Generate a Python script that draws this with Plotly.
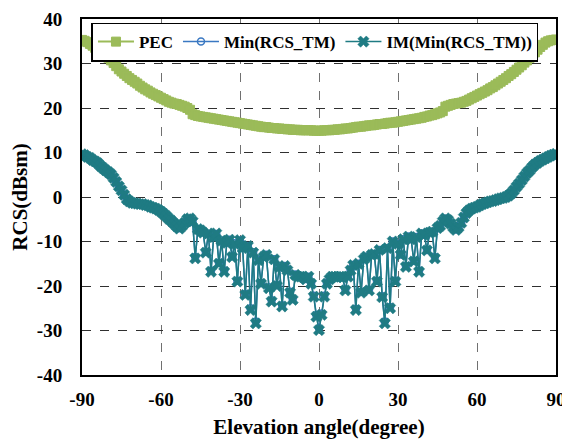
import plotly.graph_objects as go

angles = list(range(-90, 91))

pec = [
    35.3, 35.1, 34.8, 34.4, 34.0, 33.5, 33.1, 32.7, 32.3, 31.8,
    31.3, 30.7, 30.1, 29.4, 28.7, 28.2, 27.7, 27.2, 26.7, 26.3,
    25.9, 25.5, 25.0, 24.6, 24.2, 23.9, 23.5, 23.2, 22.9, 22.6,
    22.3, 22.0, 21.7, 21.4, 21.2, 21.0, 20.9, 20.7, 20.5, 20.3,
    20.0, 19.6, 18.6, 18.4, 18.2, 18.1, 18.0, 17.9, 17.8, 17.7,
    17.6, 17.5, 17.4, 17.3, 17.2, 17.1, 17.0, 16.9, 16.8, 16.7,
    16.6, 16.5, 16.4, 16.3, 16.2, 16.1, 16.0, 15.9, 15.8, 15.7,
    15.7, 15.6, 15.5, 15.5, 15.4, 15.4, 15.3, 15.3, 15.2, 15.2,
    15.1, 15.1, 15.1, 15.0, 15.0, 15.0, 15.0, 15.0, 14.9, 14.9,
    14.9,
    14.9, 15.0, 15.0, 15.0, 15.1, 15.1, 15.2, 15.2, 15.3, 15.4,
    15.4, 15.5, 15.6, 15.7, 15.8, 15.8, 15.9, 16.0, 16.1, 16.1,
    16.2, 16.3, 16.4, 16.4, 16.5, 16.6, 16.7, 16.7, 16.8, 16.9,
    17.0, 17.1, 17.2, 17.3, 17.4, 17.5, 17.6, 17.7, 17.8, 18.0,
    18.1, 18.3, 18.4, 18.6, 18.8, 19.0, 19.3, 20.3, 20.5, 20.7,
    20.9, 21.0, 21.1, 21.2, 21.4, 21.6, 21.9, 22.2, 22.5, 22.8,
    23.1, 23.4, 23.7, 24.0, 24.4, 24.7, 25.1, 25.5, 25.9, 26.3,
    26.7, 27.2, 27.6, 28.1, 28.6, 29.1, 29.6, 30.2, 30.7, 31.3,
    31.9, 32.5, 33.1, 33.7, 34.2, 34.7, 35.0, 35.2, 35.3, 35.4,
]

im_min_rcs_tm = [
    9.6, 9.4, 9.0, 8.8, 8.3, 8.0, 7.6, 7.0, 6.5, 6.0,
    5.6, 5.1, 4.3, 3.4, 2.4, 1.5, 0.5, -0.5, -1.0, -1.3,
    -1.4, -1.5, -1.6, -1.6, -1.8, -1.9, -2.2, -2.4, -2.6, -2.9,
    -3.3, -3.8, -4.3, -4.9, -5.4, -6.0, -6.6, -7.1, -6.5, -5.8,
    -5.0, -4.8, -5.5, -13.8, -7.2, -7.5, -8.0, -12.5, -8.2, -16.8,
    -9.0, -8.2, -15.0, -9.8, -16.8, -10.3, -9.6, -13.5, -10.5, -19.0,
    -9.7, -11.5, -22.0, -11.0, -25.4, -12.5, -28.4, -14.2, -19.5, -13.5,
    -13.0, -20.5, -23.5, -14.0, -20.0, -15.7, -24.6, -15.5, -16.5, -21.5,
    -23.1, -17.5, -17.9, -17.9, -18.0, -18.5, -17.9, -19.5, -22.4, -26.9,
    -29.9,
    -26.5, -22.4, -19.5, -18.5, -17.9, -17.9, -18.0, -17.9, -18.0, -21.0,
    -17.9, -16.5, -15.3, -25.4, -15.0, -21.5, -14.0, -13.4, -21.0, -13.0,
    -12.8, -19.0, -11.9, -22.5, -28.4, -11.5, -25.0, -10.0, -19.0, -10.5,
    -13.0, -9.5, -15.7, -8.9, -9.5, -14.5, -9.0, -16.8, -8.2, -8.5,
    -12.0, -8.0, -7.8, -13.8, -7.0, -6.5, -5.5, -4.8, -5.2, -6.0,
    -6.8, -7.4, -6.8, -5.8, -4.6, -3.6, -3.0, -2.6, -2.4, -2.2,
    -1.9, -1.6, -1.4, -1.2, -1.0, -0.9, -0.7, -0.5, -0.3, -0.2,
    0.0, 0.3, 0.8, 1.5, 2.3, 3.0, 3.8, 4.6, 5.4, 6.0,
    6.7, 7.3, 7.7, 8.1, 8.4, 8.7, 9.0, 9.3, 9.5, 9.7,
]

min_rcs_tm = [
    9.5, 9.3, 9.0, 8.7, 8.3, 7.9, 7.5, 7.0, 6.4, 6.0,
    5.5, 5.0, 4.2, 3.3, 2.3, 1.4, 0.4, -0.6, -1.0, -1.3,
    -1.4, -1.5, -1.6, -1.7, -1.8, -2.0, -2.2, -2.4, -2.7, -3.0,
    -3.3, -3.8, -4.4, -4.9, -5.4, -6.1, -6.6, -7.0, -6.4, -5.7,
    -5.0, -4.9, -5.6, -13.5, -7.2, -7.6, -8.0, -12.3, -8.3, -16.5,
    -9.0, -8.3, -14.8, -9.8, -16.5, -10.3, -9.6, -13.3, -10.4, -18.8,
    -9.8, -11.4, -21.8, -11.0, -25.0, -12.4, -28.0, -14.1, -19.3, -13.4,
    -13.0, -20.3, -23.2, -14.0, -19.8, -15.6, -24.3, -15.5, -16.4, -21.3,
    -22.9, -17.4, -17.8, -17.9, -18.0, -18.4, -17.9, -19.4, -22.2, -26.5,
    -29.5,
    -26.2, -22.2, -19.4, -18.4, -17.9, -17.8, -18.0, -17.9, -18.0, -20.8,
    -17.8, -16.4, -15.3, -25.1, -15.0, -21.3, -14.0, -13.4, -20.8, -13.0,
    -12.8, -18.8, -11.9, -22.3, -28.0, -11.5, -24.7, -10.0, -18.8, -10.5,
    -12.9, -9.5, -15.5, -8.9, -9.5, -14.3, -9.0, -16.5, -8.2, -8.5,
    -11.9, -8.0, -7.8, -13.5, -7.0, -6.5, -5.5, -4.9, -5.2, -6.0,
    -6.8, -7.3, -6.8, -5.8, -4.7, -3.7, -3.0, -2.6, -2.4, -2.2,
    -1.9, -1.6, -1.4, -1.2, -1.0, -0.9, -0.7, -0.5, -0.3, -0.2,
    0.0, 0.3, 0.8, 1.4, 2.2, 3.0, 3.8, 4.6, 5.3, 6.0,
    6.6, 7.2, 7.7, 8.1, 8.4, 8.7, 9.0, 9.2, 9.4, 9.6,
]

x_ticks = [-90, -60, -30, 0, 30, 60, 90]
y_ticks = [-40, -30, -20, -10, 0, 10, 20, 30, 40]

GREEN = "#9BBB59"
BLUE = "#3A78C2"
TEAL = "#1F7B83"
FONT = "Liberation Serif, Times New Roman, DejaVu Serif, serif"

fig = go.Figure()
fig.add_trace(go.Scatter(
    x=angles, y=pec, name="PEC", mode="lines+markers",
    line=dict(color=GREEN, width=2),
    marker=dict(symbol="square", size=9, color=GREEN,
                line=dict(color=GREEN, width=1)),
))
fig.add_trace(go.Scatter(
    x=angles, y=min_rcs_tm, name="Min(RCS_TM)", mode="lines+markers",
    line=dict(color=BLUE, width=1.5),
    marker=dict(symbol="circle-open", size=7, color=BLUE,
                line=dict(color=BLUE, width=1.5)),
))
fig.add_trace(go.Scatter(
    x=angles, y=im_min_rcs_tm, name="IM(Min(RCS_TM))", mode="lines+markers",
    line=dict(color=TEAL, width=1.5),
    marker=dict(symbol="x", size=10, color=TEAL,
                line=dict(color=TEAL, width=0.5)),
))

axis_common = dict(
    showline=True, mirror=True, linecolor="black", linewidth=2,
    showgrid=True, griddash="dash", zeroline=False, ticks="",
    automargin=False, ticklabeloverflow="allow",
    tickfont=dict(family=FONT, size=19, color="black", weight="bold"),
)

# page body has an 8px margin, so the figure is kept inside the window
fig.update_layout(
    width=562, height=431,
    margin=dict(l=74, r=14, t=11, b=64),
    paper_bgcolor="white", plot_bgcolor="white",
    xaxis=dict(
        range=[-90, 90], tickvals=x_ticks, ticktext=[str(v) for v in x_ticks],
        gridcolor="#707070", gridwidth=1, ticklabelstandoff=6,
        title=dict(text="Elevation angle(degree)", standoff=12,
                   font=dict(family=FONT, size=21, color="black", weight="bold")),
        **axis_common,
    ),
    yaxis=dict(
        range=[-40, 40], tickvals=y_ticks, ticktext=[str(v) for v in y_ticks],
        gridcolor="#303030", gridwidth=1, ticklabelstandoff=14,
        title=dict(text="RCS(dBsm)", standoff=4,
                   font=dict(family=FONT, size=21, color="black", weight="bold")),
        **axis_common,
    ),
    legend=dict(
        orientation="h", x=0.02, y=0.99, xanchor="left", yanchor="top",
        bgcolor="white", bordercolor="black", borderwidth=1.5,
        font=dict(family=FONT, size=17, color="black", weight="bold"),
        itemwidth=36, tracegroupgap=0,
    ),
    showlegend=True,
)

fig.write_html("out.html")
